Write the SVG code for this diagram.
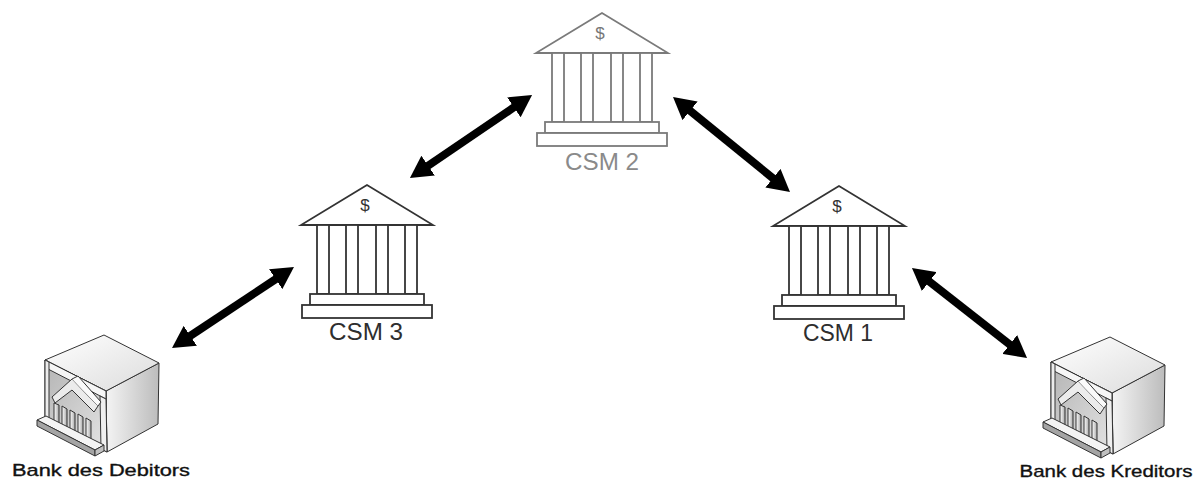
<svg xmlns="http://www.w3.org/2000/svg" xmlns:xlink="http://www.w3.org/1999/xlink" width="1202" height="481" viewBox="0 0 1202 481">
  <style>
    .label { font-family: "Liberation Sans", Arial, sans-serif; text-anchor: middle; }
    .csm-label { font-size: 23px; fill: #2e2e2e; }
    .csm-label.light { fill: #8a8a8a; }
    .bank-label { font-size: 17px; fill: #111; stroke: #111; stroke-width: 0.35; }
    .temple { fill: #fff; stroke: #333; stroke-width: 1.8; }
    .temple.light { stroke: #7a7a7a; }
    .dollar { font-family: "Liberation Sans", Arial, sans-serif; font-size: 17px; text-anchor: middle; }
    .conn { stroke: #000; stroke-width: 8; fill: none; marker-start: url(#head); marker-end: url(#head); }
    .edge { stroke: #333; stroke-width: 1; stroke-linejoin: round; }
  </style>
  <defs>
    <marker id="head" viewBox="0 -12 22 24" refX="1" refY="0" markerWidth="22" markerHeight="24" markerUnits="userSpaceOnUse" orient="auto-start-reverse">
      <path d="M0,-12 L22,0 L0,12 Z" fill="#000"/>
    </marker>
    <linearGradient id="topGrad" x1="0" y1="0" x2="1" y2="1">
      <stop offset="0" stop-color="#ffffff"/>
      <stop offset="1" stop-color="#dcdcdc"/>
    </linearGradient>
    <linearGradient id="sideGrad" x1="0" y1="0" x2="1" y2="0">
      <stop offset="0" stop-color="#f4f4f4"/>
      <stop offset="1" stop-color="#bcbcbc"/>
    </linearGradient>
    <linearGradient id="recessGrad" x1="0" y1="0" x2="1" y2="1">
      <stop offset="0" stop-color="#b4b4b4"/>
      <stop offset="1" stop-color="#e4e4e4"/>
    </linearGradient>
    <linearGradient id="colGrad" x1="0" y1="0" x2="1" y2="0">
      <stop offset="0" stop-color="#ffffff"/>
      <stop offset="1" stop-color="#a8a8a8"/>
    </linearGradient>

    <!-- classical bank building, apex of the roof at (0,0) -->
    <g id="templeShape">
      <polygon points="0,0 -66,40 66,40"/>
      <rect x="-50" y="40" width="12" height="69"/>
      <rect x="-21" y="40" width="12" height="69"/>
      <rect x="9" y="40" width="12" height="69"/>
      <rect x="38" y="40" width="12" height="69"/>
      <rect x="-57" y="109" width="114" height="11"/>
      <rect x="-65" y="120" width="130" height="13"/>
    </g>

    <!-- isometric bank building block -->
    <g id="bankIcon" class="edge">
      <polygon points="106,391 159,363 158,424 107,452" fill="url(#sideGrad)"/>
      <polygon points="45,360 104,335 159,363 106,391" fill="url(#topGrad)"/>
      <polygon points="45,360 106,391 107,452 45,421" fill="url(#recessGrad)"/>
      <polygon points="45,360 106,391 106,399 48,369" fill="#f6f6f6"/>
      <polygon points="100,396 106,399 107,452 101,449" fill="#efefef"/>
      <polygon points="45,360 49,362 49,423 45,421" fill="#ececec"/>
      <!-- portico pediment -->
      <polygon points="52,397 72,379 98,406 94,412 72,390 55,403" fill="#ececec"/>
      <polyline points="72,379 78,376 101,402 98,406" fill="#fafafa"/>
      <!-- columns -->
      <polygon points="54,403 59,405 59,431 54,429" fill="url(#colGrad)"/>
      <polygon points="62,406 67,409 67,435 62,433" fill="url(#colGrad)"/>
      <polygon points="70,410 75,413 75,439 70,437" fill="url(#colGrad)"/>
      <polygon points="78,414 83,417 83,443 78,441" fill="url(#colGrad)"/>
      <polygon points="86,418 91,421 91,447 86,445" fill="url(#colGrad)"/>
      <!-- base slab -->
      <polygon points="37,420 46,416 104,445 95,450" fill="#f4f4f4"/>
      <polygon points="37,420 95,450 95,456 37,426" fill="#a4a4a4"/>
      <polygon points="95,450 104,445 104,451 95,456" fill="#c0c0c0"/>
    </g>
  </defs>

  <rect width="1202" height="481" fill="#fff"/>

  <!-- connectors -->
  <g id="connectors">
    <line class="conn" x1="189.5" y1="336.4" x2="276.5" y2="278.6"/>
    <line class="conn" x1="427.3" y1="166.2" x2="514.7" y2="106.8"/>
    <line class="conn" x1="689.3" y1="110.2" x2="773.7" y2="178.8"/>
    <line class="conn" x1="928.5" y1="280.9" x2="1010.5" y2="345.1"/>
  </g>

  <g id="csm2">
    <use href="#templeShape" class="temple light" transform="translate(602,13)"/>
    <text class="dollar" x="600" y="39" fill="#777">$</text>
    <text class="label csm-label light" x="602" y="170" textLength="74" lengthAdjust="spacingAndGlyphs">CSM 2</text>
  </g>

  <g id="csm3">
    <use href="#templeShape" class="temple" transform="translate(367,185)"/>
    <text class="dollar" x="365" y="211" fill="#333">$</text>
    <text class="label csm-label" x="366" y="340" textLength="74" lengthAdjust="spacingAndGlyphs">CSM 3</text>
  </g>

  <g id="csm1">
    <use href="#templeShape" class="temple" transform="translate(839,186)"/>
    <text class="dollar" x="837" y="212" fill="#333">$</text>
    <text class="label csm-label" x="838" y="341" textLength="70" lengthAdjust="spacingAndGlyphs">CSM 1</text>
  </g>

  <g id="bank-debitor">
    <use href="#bankIcon"/>
    <text class="label bank-label" x="101" y="476" textLength="178" lengthAdjust="spacingAndGlyphs">Bank des Debitors</text>
  </g>

  <g id="bank-kreditor">
    <use href="#bankIcon" transform="translate(1006,2)"/>
    <text class="label bank-label" x="1106" y="477" textLength="173" lengthAdjust="spacingAndGlyphs">Bank des Kreditors</text>
  </g>
</svg>
